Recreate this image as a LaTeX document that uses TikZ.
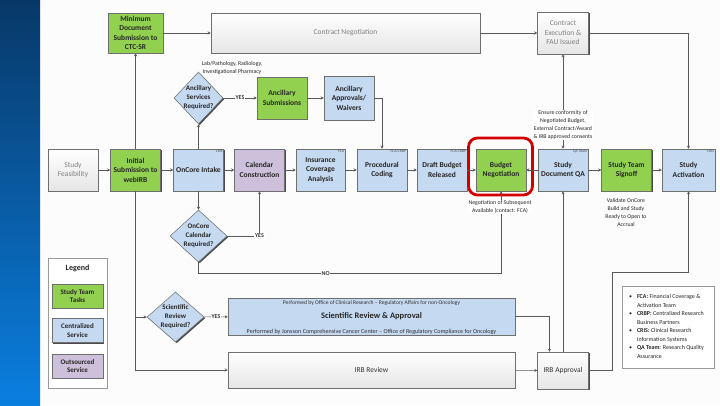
\documentclass[tikz,border=0pt]{standalone}
\usepackage{fontspec}
\usepackage{array}
\setmainfont{Carlito}
\usetikzlibrary{shapes.geometric,arrows.meta,shadows}
\definecolor{gfill}{HTML}{92D050}
\definecolor{bfill}{HTML}{C5D9F1}
\definecolor{pfill}{HTML}{CCC0DA}
\definecolor{lnc}{HTML}{595959}
\definecolor{bdc}{HTML}{6F6F6F}
\definecolor{topblue}{HTML}{083868}
\definecolor{botblue}{HTML}{0A7FE0}
\definecolor{hlred}{HTML}{D40000}
\tikzset{
 base/.style={draw=bdc, line width=0.5pt, inner sep=1pt, align=center,
   general shadow={shadow xshift=1.3pt, shadow yshift=-1.3pt, fill=black!70}},
 tbox/.style={base, minimum width=50pt, minimum height=42pt,
   font=\fontsize{7.5}{9.5}\selectfont\bfseries, text=black!85},
 boxG/.style={tbox, fill=gfill},
 boxB/.style={tbox, fill=bfill},
 boxP/.style={tbox, fill=pfill},
 boxW/.style={tbox, top color=white, bottom color=black!10,
   font=\fontsize{7.5}{9.5}\selectfont, text=black!50},
 dia/.style={diamond, draw=bdc, line width=0.5pt, fill=bfill, inner sep=0pt,
   general shadow={shadow xshift=1.2pt, shadow yshift=-1.2pt, fill=black!70}},
 dtext/.style={align=center, font=\fontsize{7}{9}\selectfont\bfseries, text=black!85},
 tag/.style={font=\fontsize{3.8}{4}\selectfont, text=black!70, inner sep=1pt},
 note/.style={align=center, font=\fontsize{5.8}{8}\selectfont, text=black!85, inner sep=0.5pt},
 lbl/.style={fill=white, inner sep=0.6pt, font=\fontsize{6}{6}\selectfont\bfseries, text=black!80},
 arr/.style={draw=lnc, line width=0.6pt, -{Stealth[length=3pt,width=3pt]}},
 arrb/.style={draw=lnc, line width=0.6pt, {Stealth[length=3pt,width=3pt]}-{Stealth[length=3pt,width=3pt]}},
 legitem/.style={tbox, minimum width=51pt, minimum height=24pt, font=\fontsize{7}{8.5}\selectfont\bfseries},
}
\begin{document}
\begin{tikzpicture}[x=1pt,y=-1pt]
\useasboundingbox (0,0) rectangle (720,405);
\fill[black!1] (40,0) rectangle (720,405);
\shade[top color=topblue, bottom color=botblue] (0,0) rectangle (40,405);

% top row
\node[boxG, minimum width=55pt, minimum height=40pt] (mindoc) at (135.5,33) {Minimum\\Document\\Submission to\\CTC-SR};
\node[boxW, minimum width=269pt, minimum height=40pt] (cneg) at (345.5,33) {Contract Negotiation};
\node[boxW, minimum width=51pt, minimum height=42pt] (cexec) at (563,33) {Contract\\Execution \&\\FAU Issued};

% ancillary row
\node[note] (labnote) at (232,68) {Lab/Pathology, Radiology,\\Investigational Pharmacy};
\node[dia, minimum width=49pt, minimum height=52pt] (d1) at (198.5,98) {};
\node[dtext] (d1t) at (d1) {Ancillary\\Services\\Required?};
\node[boxG, minimum height=42pt] (ancsub) at (282,98) {Ancillary\\Submissions};
\node[boxB, minimum height=44pt] (ancapp) at (349,98) {Ancillary\\Approvals/\\Waivers};

% main row
\node[boxW] (feas) at (73,170) {Study\\Feasibility};
\node[boxG] (init) at (135.5,170) {Initial\\Submission to\\webIRB};
\node[boxB] (intake) at (198.5,170) {OnCore Intake};
\node[boxP] (cal) at (259.5,170) {Calendar\\Construction};
\node[boxB, minimum width=49pt] (ins) at (320.5,170) {Insurance\\Coverage\\Analysis};
\node[boxB] (proc) at (382,170) {Procedural\\Coding};
\node[boxB] (draft) at (442,170) {Draft Budget\\Released};
\node[boxG] (budget) at (501,170) {Budget\\Negotiation};
\node[boxB] (qa) at (563,170) {Study\\Document QA};
\node[boxG] (signoff) at (626.5,170) {Study Team\\Signoff};
\node[boxB, minimum width=53pt] (activ) at (688.5,170) {Study\\Activation};

\node[tag, anchor=north east] (t1) at (intake.north east) {CRIS};
\node[tag, anchor=north east] (t2) at (ins.north east) {FCA};
\node[tag, anchor=north east] (t3) at (proc.north east) {FCA/CRBP};
\node[tag, anchor=north east] (t4) at (draft.north east) {FCA/CRBP};
\node[tag, anchor=north east] (t5) at (qa.north east) {QA Team};
\node[tag, anchor=north east] (t6) at (activ.north east) {CRIS};

\node[draw=hlred, line width=2.8pt, rounded corners=9pt, minimum width=64pt, minimum height=57pt] (hl) at (500.5,166.5) {};

\node[note] (valnote) at (626,213) {Validate OnCore\\Build and Study\\Ready to Open to\\Accrual};

% diamonds lower
\node[dia, minimum width=57pt, minimum height=52pt] (d2) at (198.5,236) {};
\node[dtext] (d2t) at (d2) {OnCore\\Calendar\\Required?};
\node[dia, minimum width=57pt, minimum height=50pt] (d3) at (175.5,317) {};
\node[dtext] (d3t) at (d3) {Scientific\\Review\\Required?};

% bottom boxes
\node[boxB, minimum width=287pt, minimum height=37pt, font=\fontsize{8.5}{10}\selectfont\bfseries] (sci) at (371.5,316.5) {Scientific Review \& Approval};
\node[font=\fontsize{5.6}{6.5}\selectfont, text=black!80, anchor=north, inner sep=0.5pt] (scitop) at ([yshift=-2pt]sci.north) {Performed by Office of Clinical Research -- Regulatory Affairs for non-Oncology};
\node[font=\fontsize{6.1}{7}\selectfont, text=black!80, anchor=south, inner sep=0.5pt] (scibot) at ([yshift=0.3pt]sci.south) {Performed by Jonsson Comprehensive Cancer Center -- Office of Regulatory Compliance for Oncology};
\node[boxW, minimum width=287pt, minimum height=36pt, text=black!80] (irbrev) at (371.5,370) {IRB Review};
\node[boxW, minimum width=51pt, minimum height=37pt, text=black!80] (irbapp) at (563,370.5) {IRB Approval};

% legend
\node[draw=black!40, line width=0.5pt, fill=white, minimum width=59pt, minimum height=130pt] (legend) at (77.5,323) {};
\node[font=\fontsize{8}{9}\selectfont\bfseries, text=black!85] (legt) at (77.5,268) {Legend};
\node[legitem, fill=gfill] (lg1) at (77.5,296) {Study Team\\Tasks};
\node[legitem, fill=bfill] (lg2) at (77.5,330.5) {Centralized\\Service};
\node[legitem, fill=pfill] (lg3) at (77.5,366) {Outsourced\\Service};

% notes
\node[draw=black!40, line width=0.5pt, fill=white, minimum width=92pt, minimum height=82pt, inner sep=3pt,
  font=\fontsize{6}{8.5}\selectfont, text=black!85] (notes) at (668,327) {%
\begin{tabular}{@{}l@{\hspace{5pt}}>{\raggedright\arraybackslash}p{70pt}@{}}
\textbullet & \textbf{FCA:} Financial Coverage \& Activation Team\\
\textbullet & \textbf{CRBP:} Centralized Research Business Partners\\
\textbullet & \textbf{CRIS:} Clinical Research Information Systems\\
\textbullet & \textbf{QA Team:} Research Quality Assurance
\end{tabular}};

% connectors
\draw[arr] (mindoc) -- (cneg);
\draw[arr] (cneg) -- (cexec);
\draw[arr] (cexec.east) -| (activ.north);
\draw[arr] (init) -- (mindoc);
\draw[arr] (intake) -- (d1);
\draw[arr] (d1) -- node[lbl] {YES} (ancsub);
\draw[arr] (ancsub) -- (ancapp);
\draw[arr] (ancapp.east) -| (proc.north);

\draw[arr] (feas) -- (init);
\draw[arr] (init) -- (intake);
\draw[arr] (intake) -- (cal);
\draw[arr] (cal) -- (ins);
\draw[arr] (ins) -- (proc);
\draw[arr] (proc) -- (draft);
\draw[arr] (draft) -- (budget);
\draw[arr] (qa) -- (budget);
\draw[arr] (qa) -- (signoff);
\draw[arr] (signoff) -- (activ);

\draw[arrb] (qa) -- node[note, fill=white, pos=0.25] (conf) {Ensure conformity of\\Negotiated Budget,\\External Contract/Award\\\& IRB approved consents} (cexec);

\draw[arr] (intake) -- (d2);
\draw[arr] (d2.east) -| node[lbl, pos=0.5] {YES} (cal.south);
\draw[arr] (d2.south) -- ++(0,11) -| node[lbl, pos=0.21] {NO} (budget.south);
\node[note, fill=white] (negnote) at (500,207) {Negotiation of Subsequent\\Available (contact: FCA)};

\draw[arr] (init.south) |- (irbrev.west);
\draw[arr] (d3.west -| init.south) -- (d3.west);
\draw[arr] (d3) -- node[lbl] {YES} (sci);
\draw[arr] (sci.east) -| ([xshift=-13.5pt]irbapp.north);
\draw[arr] (irbrev) -- (irbapp);
\draw[arr] (irbapp) -- (qa);
\coordinate (jA) at (612,272);
\draw[arr] (irbapp.east) -| (jA) -| (activ.south);
\end{tikzpicture}
\end{document}
